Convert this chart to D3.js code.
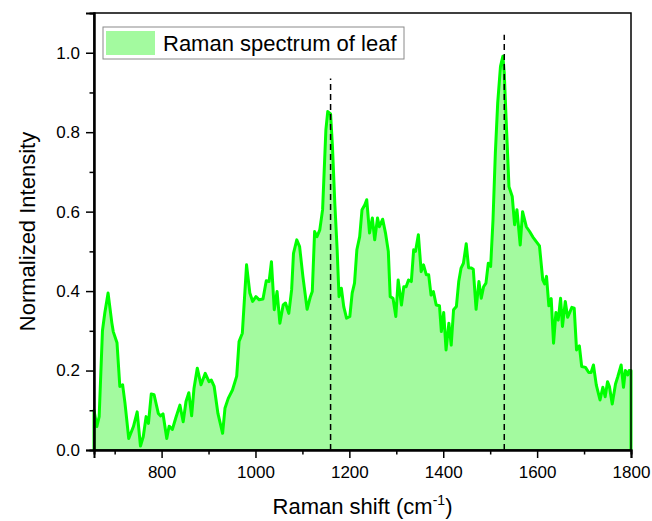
<!DOCTYPE html>
<html>
<head>
<meta charset="utf-8">
<script src="https://cdn.jsdelivr.net/npm/d3@7"></script>
<style>
  body { margin: 0; background: #fff; }
  text { font-family: Arial, "Liberation Sans", sans-serif; fill: #000; }
</style>
</head>
<body>
<div id="chart"></div>
<script>
// Raman shift (cm-1)
var shift = [656, 662, 667, 674, 679, 686, 694, 697, 705, 711, 717, 722, 730, 740, 748, 755, 761, 767, 772, 778,
  784, 793, 798, 803, 811, 816, 823, 830, 839, 846, 852, 858, 864, 869, 876, 884, 893, 901, 906, 912,
  920, 930, 935, 942, 951, 960, 965, 972, 981, 988, 994, 1001, 1008, 1016, 1023, 1029, 1034, 1040, 1046, 1052,
  1059, 1064, 1071, 1077, 1081, 1088, 1094, 1101, 1110, 1117, 1121, 1126, 1131, 1137, 1143, 1150, 1154, 1160, 1164, 1169,
  1174, 1178, 1183, 1188, 1194, 1201, 1206, 1211, 1216, 1222, 1227, 1233, 1237, 1243, 1249, 1254, 1260, 1264, 1271, 1277,
  1283, 1287, 1293, 1299, 1304, 1311, 1316, 1321, 1326, 1332, 1337, 1341, 1347, 1353, 1358, 1364, 1369, 1374, 1379, 1385,
  1392, 1396, 1401, 1406, 1412, 1417, 1422, 1428, 1433, 1438, 1443, 1449, 1454, 1460, 1464, 1470, 1476, 1481, 1486, 1491,
  1496, 1501, 1506, 1511, 1516, 1522, 1527, 1530, 1534, 1540, 1547, 1552, 1557, 1564, 1569, 1577, 1584, 1591, 1605, 1612,
  1616, 1620, 1625, 1630, 1635, 1640, 1645, 1650, 1654, 1660, 1665, 1674, 1679, 1684, 1690, 1695, 1703, 1710, 1715, 1720,
  1726, 1734, 1740, 1745, 1750, 1754, 1760, 1767, 1772, 1779, 1784, 1788, 1793, 1796, 1800];

var intensity = [0.10, 0.059, 0.084, 0.30, 0.345, 0.395, 0.32, 0.298, 0.27, 0.16, 0.164, 0.118, 0.029, 0.059, 0.096, 0.01, 0.034, 0.084, 0.067, 0.141,
  0.139, 0.092, 0.086, 0.091, 0.029, 0.06, 0.052, 0.08, 0.113, 0.071, 0.122, 0.144, 0.086, 0.155, 0.206, 0.164, 0.193, 0.172, 0.176, 0.16,
  0.092, 0.042, 0.105, 0.13, 0.151, 0.186, 0.273, 0.294, 0.466, 0.395, 0.374, 0.386, 0.378, 0.38, 0.426, 0.424, 0.474, 0.353, 0.399, 0.319,
  0.365, 0.37, 0.344, 0.403, 0.495, 0.529, 0.512, 0.437, 0.354, 0.386, 0.399, 0.55, 0.537, 0.554, 0.605, 0.806, 0.852, 0.846, 0.764, 0.621,
  0.504, 0.386, 0.407, 0.361, 0.332, 0.336, 0.395, 0.42, 0.504, 0.537, 0.605, 0.617, 0.63, 0.546, 0.584, 0.529, 0.584, 0.562, 0.581, 0.546,
  0.50, 0.386, 0.382, 0.336, 0.428, 0.365, 0.411, 0.411, 0.428, 0.424, 0.504, 0.50, 0.542, 0.449, 0.466, 0.441, 0.441, 0.39, 0.399, 0.365,
  0.363, 0.298, 0.346, 0.252, 0.319, 0.264, 0.353, 0.361, 0.424, 0.458, 0.47, 0.519, 0.459, 0.458, 0.455, 0.354, 0.424, 0.382, 0.411, 0.42,
  0.47, 0.462, 0.579, 0.747, 0.873, 0.966, 0.991, 0.949, 0.831, 0.663, 0.638, 0.567, 0.605, 0.516, 0.60, 0.562, 0.55, 0.536, 0.514, 0.428,
  0.418, 0.437, 0.363, 0.381, 0.269, 0.346, 0.327, 0.382, 0.311, 0.374, 0.334, 0.359, 0.357, 0.252, 0.262, 0.21, 0.208, 0.195, 0.195, 0.214,
  0.164, 0.126, 0.158, 0.134, 0.172, 0.16, 0.116, 0.166, 0.185, 0.214, 0.158, 0.20, 0.189, 0.20, 0.20];

// marked peaks (dashed guides) and how high the guides reach
var peakShift = [1160, 1530];
var peakTop = [0.935, 1.045];

var xTicks = [800, 1000, 1200, 1400, 1600, 1800];
var xMinor = [700, 900, 1100, 1300, 1500, 1700];
var yTicks = [0, 0.2, 0.4, 0.6, 0.8, 1.0];
var yMinor = [0.1, 0.3, 0.5, 0.7, 0.9];

var legendLabel = 'Raman spectrum of leaf';

var W = 652, H = 521;
var margin = {top: 13, right: 21, bottom: 71, left: 94};
var width = W - margin.left - margin.right,
    height = H - margin.top - margin.bottom;

var data = shift.map(function(s, i) { return {x: s, y: intensity[i]}; });

var svg = d3.select('#chart').append('svg')
    .attr('width', W)
    .attr('height', H);

var g = svg.append('g')
    .attr('transform', 'translate(' + margin.left + ',' + margin.top + ')');

var x = d3.scaleLinear().domain([656, 1800]).range([0, width]);
var y = d3.scaleLinear().domain([0, 1.1]).range([height, 0]);

// filled spectrum
var area = d3.area()
    .x(function(d) { return x(d.x); })
    .y0(y(0))
    .y1(function(d) { return y(d.y); });

g.append('path')
    .datum(data)
    .attr('d', area)
    .attr('fill', '#a3fa9f');

// outline, closed down to the baseline at both ends
var lineData = [{x: shift[0], y: 0}].concat(data, [{x: shift[shift.length - 1], y: 0}]);
var line = d3.line()
    .x(function(d) { return x(d.x); })
    .y(function(d) { return y(d.y); });

g.append('path')
    .datum(lineData)
    .attr('d', line)
    .attr('fill', 'none')
    .attr('stroke', '#00ff00')
    .attr('stroke-width', 3)
    .attr('stroke-linejoin', 'round');

// dashed peak guides
g.selectAll('.peak')
    .data(peakShift)
  .enter().append('line')
    .attr('class', 'peak')
    .attr('x1', function(d) { return x(d); })
    .attr('x2', function(d) { return x(d); })
    .attr('y1', y(0))
    .attr('y2', function(d, i) { return y(peakTop[i]); })
    .attr('stroke', '#000')
    .attr('stroke-width', 1.5)
    .attr('stroke-dasharray', '6,4');

// frame
g.append('rect')
    .attr('width', width)
    .attr('height', height)
    .attr('fill', 'none')
    .attr('stroke', '#000')
    .attr('stroke-width', 1.5);

// axes
g.append('g')
    .attr('transform', 'translate(0,' + height + ')')
    .call(d3.axisBottom(x).tickValues(xTicks).tickSize(8).tickPadding(8).tickFormat(d3.format('d')));

g.append('g')
    .attr('transform', 'translate(0,' + height + ')')
    .call(d3.axisBottom(x).tickValues(xMinor).tickSize(4.5).tickFormat(''));

g.append('g')
    .call(d3.axisLeft(y).tickValues(yTicks).tickSize(8).tickPadding(6).tickFormat(d3.format('.1f')));

g.append('g')
    .call(d3.axisLeft(y).tickValues(yMinor).tickSize(4.5).tickFormat(''));

g.selectAll('.domain')
    .attr('stroke', '#000')
    .attr('stroke-width', 2);
g.selectAll('.tick line')
    .attr('stroke', '#000')
    .attr('stroke-width', 1.5);
g.selectAll('.tick text')
    .style('font-size', '17px')
    .style('font-family', 'Arial, "Liberation Sans", sans-serif');

// axis titles
var xt = svg.append('text')
    .attr('x', margin.left + width / 2)
    .attr('y', 514)
    .attr('text-anchor', 'middle')
    .style('font-size', '22px');
xt.append('tspan').text('Raman shift (cm');
xt.append('tspan').attr('dy', -9).style('font-size', '14px').text('-1');
xt.append('tspan').attr('dy', 9).text(')');

svg.append('text')
    .attr('transform', 'translate(35,' + (margin.top + height / 2) + ') rotate(-90)')
    .attr('text-anchor', 'middle')
    .style('font-size', '22px')
    .text('Normalized Intensity');

// legend
var lg = svg.append('g').attr('transform', 'translate(103,27)');
lg.append('rect')
    .attr('width', 301)
    .attr('height', 32)
    .attr('fill', '#fff')
    .attr('stroke', '#8a8a8a')
    .attr('stroke-width', 1);
lg.append('rect')
    .attr('x', 3)
    .attr('y', 4)
    .attr('width', 49)
    .attr('height', 24)
    .attr('fill', '#a3fa9f');
lg.append('text')
    .attr('x', 60)
    .attr('y', 24)
    .style('font-size', '22px')
    .text(legendLabel);
</script>
</body>
</html>
